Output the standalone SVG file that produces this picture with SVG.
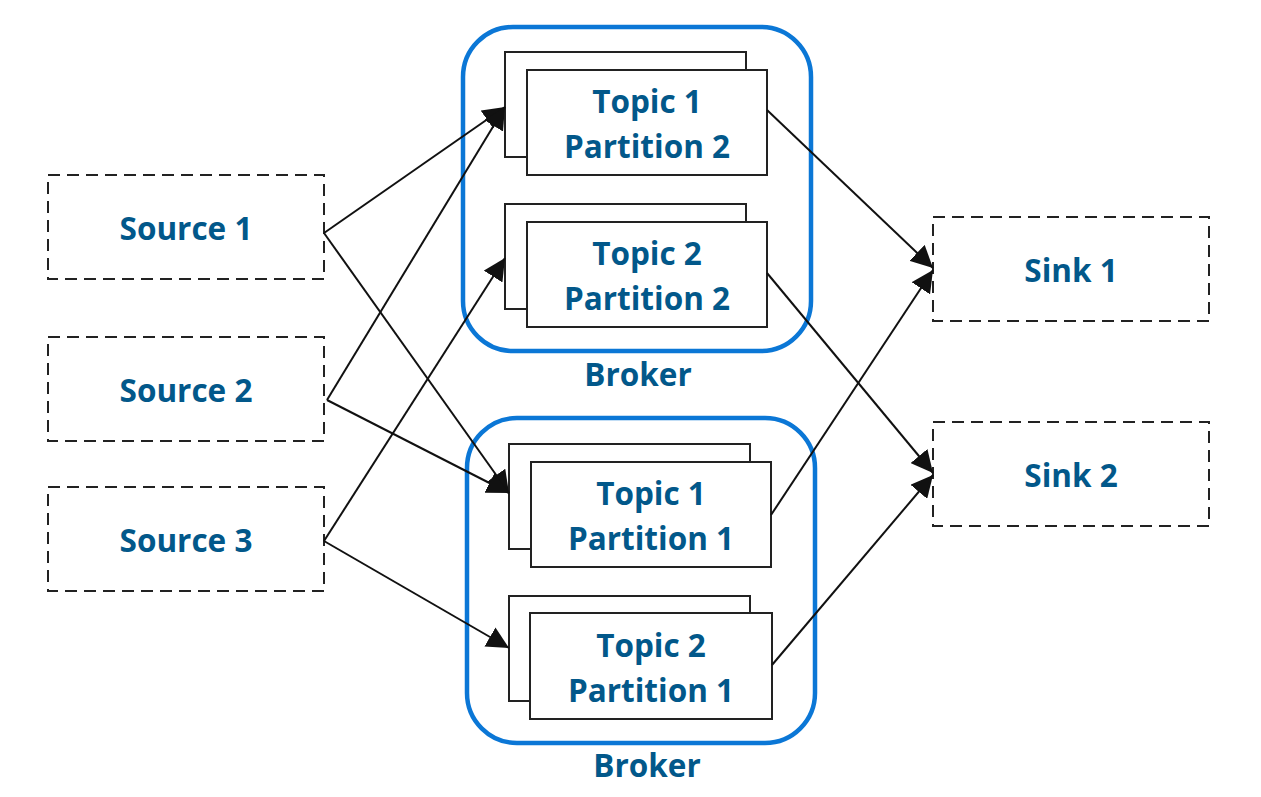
<svg xmlns="http://www.w3.org/2000/svg" width="1261" height="797" viewBox="0 0 1261 797">
<style>
.dash{fill:#fff;stroke:#222;stroke-width:2;stroke-dasharray:12,7}
.broker{fill:none;stroke:#0b77d6;stroke-width:4.5}
.part{fill:#fff;stroke:#222;stroke-width:2}
.t{font-family:"Open Sans","Liberation Sans",sans-serif;font-weight:bold;font-size:31.5px;fill:#02588a;text-anchor:middle}
.c{fill:none;stroke:#111;stroke-width:2}
</style>
<defs>
<marker id="ah" markerUnits="userSpaceOnUse" markerWidth="24" markerHeight="22" viewBox="0 0 24 22" refX="22" refY="11" orient="auto">
<path d="M0,0 L22,11 L0,22 Z" fill="#111"/>
</marker>
</defs>
<rect width="1261" height="797" fill="#fff"/>
<g id="broker1">
<rect class="broker" x="463" y="27" width="348" height="324" rx="50"/>
<text class="t" x="638" y="386">Broker</text>
</g>
<g id="broker2">
<rect class="broker" x="467" y="418" width="348" height="325" rx="50"/>
<text class="t" x="647" y="777">Broker</text>
</g>
<g id="t1p2">
<rect class="part" x="505" y="52" width="241" height="105"/>
<rect class="part" x="527" y="70" width="240" height="105"/>
<text class="t" x="647" y="113">Topic 1</text>
<text class="t" x="647" y="158">Partition 2</text>
</g>
<g id="t2p2">
<rect class="part" x="505" y="204" width="241" height="105"/>
<rect class="part" x="527" y="222" width="240" height="105"/>
<text class="t" x="647" y="265">Topic 2</text>
<text class="t" x="647" y="310">Partition 2</text>
</g>
<g id="t1p1">
<rect class="part" x="509" y="444" width="241" height="105"/>
<rect class="part" x="531" y="462" width="240" height="105"/>
<text class="t" x="651" y="505">Topic 1</text>
<text class="t" x="651" y="550">Partition 1</text>
</g>
<g id="t2p1">
<rect class="part" x="509" y="596" width="241" height="105"/>
<rect class="part" x="530" y="613" width="242" height="106"/>
<text class="t" x="651" y="657">Topic 2</text>
<text class="t" x="651" y="702">Partition 1</text>
</g>
<g id="source1">
<rect class="dash" x="48" y="175" width="276" height="104"/>
<text class="t" x="186" y="240">Source 1</text>
</g>
<g id="source2">
<rect class="dash" x="48" y="337" width="276" height="104"/>
<text class="t" x="186" y="402">Source 2</text>
</g>
<g id="source3">
<rect class="dash" x="48" y="487" width="276" height="104"/>
<text class="t" x="186" y="552">Source 3</text>
</g>
<g id="sink1">
<rect class="dash" x="933" y="217" width="276" height="104"/>
<text class="t" x="1071" y="282">Sink 1</text>
</g>
<g id="sink2">
<rect class="dash" x="933" y="422" width="276" height="104"/>
<text class="t" x="1071" y="487">Sink 2</text>
</g>
<g id="connectors">
<line class="c" x1="324" y1="233" x2="505" y2="107" marker-end="url(#ah)"/>
<line class="c" x1="324" y1="233" x2="509" y2="493" marker-end="url(#ah)"/>
<line class="c" x1="327" y1="400" x2="505" y2="107" marker-end="url(#ah)"/>
<line class="c" x1="327" y1="400" x2="509" y2="493" marker-end="url(#ah)"/>
<line class="c" x1="324" y1="541" x2="505" y2="258" marker-end="url(#ah)"/>
<line class="c" x1="324" y1="541" x2="509" y2="648" marker-end="url(#ah)"/>
<line class="c" x1="767" y1="110" x2="933" y2="268" marker-end="url(#ah)"/>
<line class="c" x1="771" y1="515" x2="933" y2="270" marker-end="url(#ah)"/>
<line class="c" x1="767" y1="273" x2="933" y2="473" marker-end="url(#ah)"/>
<line class="c" x1="772" y1="665" x2="933" y2="475" marker-end="url(#ah)"/>
</g>
</svg>
